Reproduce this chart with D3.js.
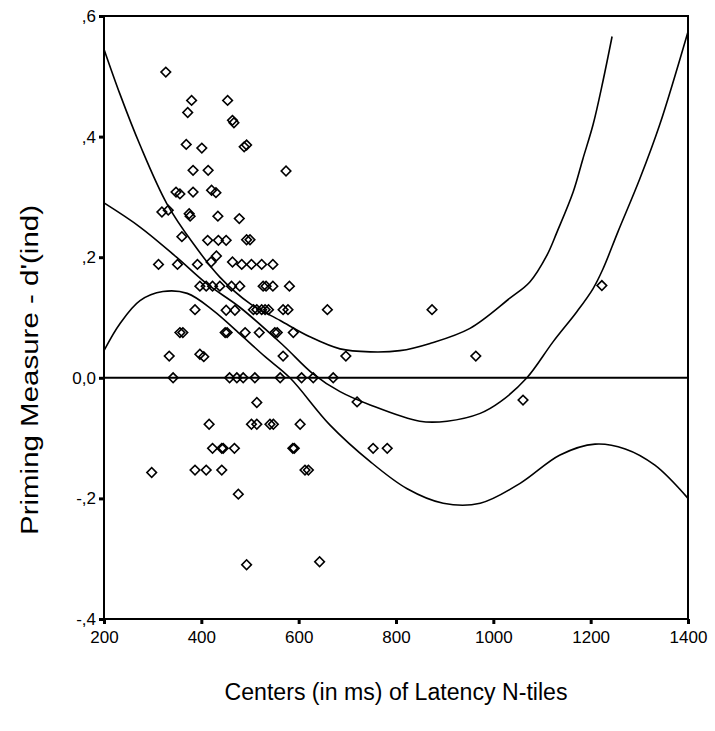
<!DOCTYPE html>
<html>
<head>
<meta charset="utf-8">
<script src="https://cdn.jsdelivr.net/npm/d3@7"></script>
<style>
  html, body { margin: 0; padding: 0; background: #fff; }
  svg { display: block; font-family: "Liberation Sans", Arial, sans-serif; }
</style>
</head>
<body>
<svg id="chart" width="715" height="731"></svg>
<script>
// ---- data ----
const xTicks = [200, 400, 600, 800, 1000, 1200, 1400];
const yTicks = [-0.4, -0.2, 0, 0.2, 0.4, 0.6];
const yTickLabels = ["-,4", "-,2", "0,0", ",2", ",4", ",6"];
const xTitle = "Centers (in ms) of Latency N-tiles";
const yTitle = "Priming Measure - d'(ind)";

const pointX = [327,380,454,372,464,467,369,401,488,493,383,414,574,348,356,383,421,430,319,332,375,377,434,478,360,413,435,451,493,500,431,312,351,392,420,464,483,503,524,547,
  397,410,423,438,462,479,527,533,547,581,
  387,451,469,507,514,524,531,538,568,578,659,874,
  356,362,449,453,490,519,551,556,589,
  334,397,405,568,697,964,
  342,458,473,486,510,562,606,630,671,
  514,720,1061,
  416,503,514,541,548,603,
  423,442,445,468,588,591,753,782,
  298,387,410,442,613,620,
  476,493,643,1223];
const pointY = [0.507,0.46,0.46,0.44,0.427,0.423,0.387,0.381,0.383,0.386,0.344,0.344,0.343,0.308,0.305,0.308,0.311,0.307,0.275,0.278,0.272,0.268,0.268,0.264,0.234,0.228,0.228,0.228,0.229,0.229,0.202,0.188,0.188,0.188,0.192,0.192,0.188,0.188,0.188,0.188,
  0.152,0.152,0.152,0.152,0.152,0.152,0.152,0.152,0.152,0.152,
  0.113,0.112,0.112,0.113,0.113,0.113,0.113,0.113,0.113,0.113,0.113,0.113,
  0.075,0.075,0.075,0.075,0.075,0.075,0.075,0.075,0.075,
  0.036,0.039,0.035,0.036,0.036,0.036,
  0,0,0,0,0,0,0,0,0,
  -0.041,-0.04,-0.037,
  -0.077,-0.077,-0.077,-0.077,-0.077,-0.077,
  -0.117,-0.117,-0.117,-0.117,-0.117,-0.117,-0.117,-0.117,
  -0.157,-0.153,-0.153,-0.153,-0.153,-0.153,
  -0.193,-0.31,-0.305,0.153];

const upperX = [200,233,274,329,383,438,500,562,623,685,747,808,870,952,1034,1075,1110,1131,1164,1184,1205,1225,1244];
const upperY = [0.545,0.47,0.386,0.289,0.223,0.167,0.123,0.095,0.068,0.048,0.043,0.045,0.057,0.082,0.132,0.159,0.203,0.242,0.308,0.363,0.42,0.491,0.566];

const fitX = [200,274,349,411,479,568,629,685,747,849,905,973,1014,1069,1123,1172,1205,1225,1256,1301,1342,1400];
const fitY = [0.29,0.25,0.2,0.156,0.117,0.054,0.007,-0.023,-0.045,-0.072,-0.072,-0.059,-0.04,0,0.06,0.11,0.148,0.18,0.242,0.33,0.42,0.574];

const lowerX = [200,233,274,321,371,424,479,531,582,664,747,823,897,973,1055,1137,1209,1271,1332,1400];
const lowerY = [0.045,0.09,0.128,0.143,0.14,0.112,0.073,0.035,0,-0.078,-0.139,-0.184,-0.208,-0.208,-0.175,-0.128,-0.11,-0.118,-0.145,-0.2];

// ---- layout ----
const L = 104, R = 688, T = 16, B = 619;
const svg = d3.select("#chart");
const x = d3.scaleLinear().domain([200, 1400]).range([L, R]);
const y = d3.scaleLinear().domain([-0.4, 0.6]).range([B, T]);

// reference line at 0
svg.append("line")
  .attr("x1", L).attr("x2", R).attr("y1", y(0)).attr("y2", y(0))
  .attr("stroke", "#000").attr("stroke-width", 2);

// curves
const line = d3.line().x(d => x(d[0])).y(d => y(d[1])).curve(d3.curveCatmullRom);
[[upperX, upperY], [fitX, fitY], [lowerX, lowerY]].forEach(([xs, ys]) => {
  svg.append("path")
    .datum(xs.map((v, i) => [v, ys[i]]))
    .attr("d", line)
    .attr("fill", "none")
    .attr("stroke", "#000")
    .attr("stroke-width", 1.6);
});

// points (diamonds)
const sym = d3.symbol().type(d3.symbolSquare).size(46);
svg.append("g").selectAll("path")
  .data(pointX.map((v, i) => [v, pointY[i]]))
  .join("path")
  .attr("d", sym)
  .attr("transform", d => `translate(${x(d[0])},${y(d[1])}) rotate(45)`)
  .attr("fill", "none")
  .attr("stroke", "#000")
  .attr("stroke-width", 1.6);

// frame
svg.append("rect")
  .attr("x", L).attr("y", T).attr("width", R - L).attr("height", B - T)
  .attr("fill", "none").attr("stroke", "#000").attr("stroke-width", 2);

// axes
const yAxis = d3.axisLeft(y).tickValues(yTicks)
  .tickFormat((d, i) => yTickLabels[i]).tickSize(5).tickSizeOuter(0).tickPadding(3);
const gy = svg.append("g").attr("transform", `translate(${L},0)`).call(yAxis);
const xAxis = d3.axisBottom(x).tickValues(xTicks)
  .tickFormat(d3.format("d")).tickSize(5).tickSizeOuter(0).tickPadding(7);
const gx = svg.append("g").attr("transform", `translate(0,${B})`).call(xAxis);
[gy, gx].forEach(g => {
  g.select(".domain").remove();
  g.selectAll(".tick line").attr("stroke", "#000").attr("stroke-width", 3);
  g.selectAll(".tick text").attr("fill", "#000")
    .style("font-size", "17px").style("font-family", "'Liberation Sans', Arial, sans-serif");
});

// titles
svg.append("text")
  .attr("x", 396).attr("y", 700)
  .attr("text-anchor", "middle")
  .attr("textLength", 343).attr("lengthAdjust", "spacingAndGlyphs")
  .style("font-size", "23px")
  .text(xTitle);
svg.append("text")
  .attr("transform", `translate(38,370) rotate(-90)`)
  .attr("text-anchor", "middle")
  .attr("textLength", 330).attr("lengthAdjust", "spacingAndGlyphs")
  .style("font-size", "23px")
  .text(yTitle);
</script>
</body>
</html>
